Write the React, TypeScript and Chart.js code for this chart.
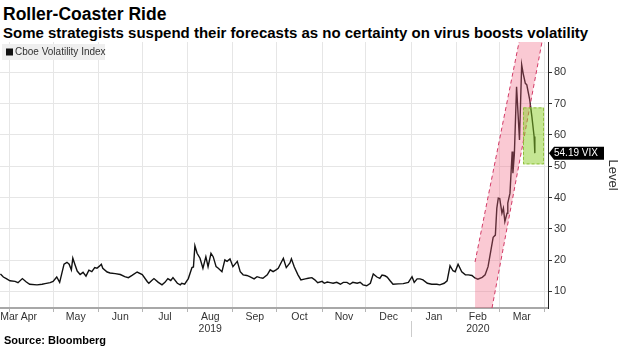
import React, { useEffect, useRef } from 'react';
import { Chart, registerables } from 'chart.js';

Chart.register(...registerables);

const TITLE = 'Roller-Coaster Ride';
const SUBTITLE = 'Some strategists suspend their forecasts as no certainty on virus boosts volatility';
const SOURCE = 'Source: Bloomberg';
const SERIES_NAME = 'Cboe Volatility Index';
const AXIS_TITLE = 'Level';
const LAST_VALUE = 54.19;
const LAST_TAG = '54.19 VIX';

// x values: days since 2019-03-01
const days = [
  25, 27, 29, 31.5, 35, 37, 40, 42.5, 45, 50, 53.5, 55.5, 59, 61, 63.5, 65.5, 68.5, 70.5, 72, 73.5,
  74.5, 76, 77.5, 79.5, 81.5, 83.5, 85.5, 87.5, 89.5, 91, 92.5, 94, 95, 98, 100, 103.5, 107, 110, 112.5, 115,
  118.5, 122, 125.5, 126.5, 128.5, 130, 133, 135.5, 137.5, 139.5, 141.5, 143, 146, 148, 149, 151, 153.5, 156, 157, 158,
  159.5, 161.5, 163.5, 165.5, 167, 169, 170.5, 172.5, 174, 176.5, 178.5, 180, 182, 184, 187, 189, 191, 193.5, 195.5, 198.5,
  200.5, 202.5, 204.5, 207.5, 209.5, 211.5, 213.5, 215, 218.5, 220.5, 223, 224, 226, 228.5, 230.5, 233.5, 235.5, 238, 240, 242,
  245, 246.5, 248.5, 250.5, 252.5, 255, 257.5, 259.5, 262, 264, 266, 269, 271, 273, 275.5, 278, 280, 282.5, 284.5, 286,
  288, 289.5, 291.5, 293.5, 297, 300.5, 304, 306.5, 308, 310, 312, 314, 317, 320, 323.5, 325.5, 328.5, 330.5, 332.5, 334.5,
  336, 338, 340.5, 343, 345, 347.5, 349.5, 351.5, 354.5, 356.5, 358.5, 360.5, 362, 363.5, 364.5, 365.5, 366.5, 368, 369, 370,
  371.5, 372, 373.5, 375, 375.5, 376.5, 378, 380, 381.5, 382.5, 384, 385, 387, 388.5, 390, 390.5,
];
const vix = [
  15.6, 14.6, 14.1, 13.4, 13.2, 12.8, 14.1, 13.1, 12.3, 12.1, 12.3, 12.5, 12.8, 13.2, 14.6, 12.9, 18.7, 19.3, 18.7, 16.9,
  20.6, 18.5, 16.5, 15.4, 16.1, 14.9, 16.8, 16.3, 17.6, 17.4, 18.0, 18.7, 17.4, 16.2, 15.9, 15.7, 15.4, 14.7, 14.4, 15.1,
  16.2, 15.4, 13.1, 12.6, 13.5, 14.1, 12.9, 12.1, 12.9, 14.1, 13.5, 14.4, 12.6, 12.1, 12.6, 12.3, 14.1, 17.6, 17.8, 24.6,
  22.2, 20.6, 17.4, 21.1, 17.9, 22.2, 21.1, 17.9, 17.4, 16.3, 20.1, 19.6, 20.4, 17.9, 19.6, 16.3, 15.3, 15.1, 14.7, 14.0,
  14.7, 14.4, 14.2, 15.3, 16.9, 16.3, 16.9, 17.4, 20.6, 17.6, 19.1, 20.4, 17.8, 15.3, 13.7, 14.0, 14.2, 14.4, 13.7, 12.8,
  13.2, 12.6, 13.0, 12.8, 12.6, 12.9, 12.3, 12.9, 12.9, 12.3, 12.9, 12.6, 12.9, 12.1, 11.8, 12.6, 15.6, 14.6, 14.2, 15.2,
  15.0, 14.6, 13.4, 12.3, 12.4, 12.5, 12.9, 14.7, 12.9, 14.0, 14.0, 13.7, 12.6, 12.3, 12.3, 12.1, 12.6, 13.4, 18.2, 16.6,
  16.3, 18.7, 16.3, 15.3, 15.3, 15.1, 14.3, 13.9, 14.5, 15.3, 17.9, 23.3, 27.3, 28.0, 36.6, 39.8, 39.7, 35.0, 36.6, 32.3,
  35.0, 38.2, 41.4, 54.7, 47.8, 53.9, 75.4, 58.4, 82.4, 79.7, 76.5, 76.0, 71.2, 65.8, 59.5, 54.19,
];

// axis ticks (days since 2019-03-01)
const monthStarts = [31, 61, 92, 122, 153, 184, 214, 245, 275, 306, 337, 366, 397];
const monthLabelDays = [31, 44.5, 76.5, 107, 137.5, 168.5, 199, 229.5, 260, 290.5, 321.5, 351.5, 381.5];
const monthLabels = [
  ['Mar'], ['Apr'], ['May'], ['Jun'], ['Jul'], ['Aug', '2019'], ['Sep'], ['Oct'], ['Nov'], ['Dec'], ['Jan'], ['Feb', '2020'], ['Mar'],
];
const yearBreakDay = 306;
const yTicks = [10, 20, 30, 40, 50, 60, 70, 80];
const X_MIN = 24.7;
const X_MAX = 399.5;
const Y_MIN = 4.7;
const Y_MAX = 89.7;

// annotations (data coordinates)
const bandLeftX = [349.6, 349.6, 379.7];
const bandLeftY = [Y_MIN, 19.4, Y_MAX];
const bandRightX = [361.2, 395.4];
const bandRightY = [Y_MIN, Y_MAX];
const boxX = [382.4, 396.8];
const boxY = [50.6, 68.8];

const FONT = "'Liberation Sans', Arial, sans-serif";

const annotPlugin = {
  id: 'annot',
  afterDatasetsDraw(chart: any) {
    const { ctx, chartArea, scales } = chart;
    const x = scales.x;
    const y = scales.y;
    const px = (v: number) => x.getPixelForValue(v);
    const py = (v: number) => y.getPixelForValue(v);
    ctx.save();
    ctx.beginPath();
    ctx.rect(chartArea.left, chartArea.top, chartArea.right - chartArea.left, chartArea.bottom - chartArea.top);
    ctx.clip();
    // pink band
    ctx.beginPath();
    ctx.moveTo(px(bandLeftX[0]), py(bandLeftY[0]));
    ctx.lineTo(px(bandLeftX[1]), py(bandLeftY[1]));
    ctx.lineTo(px(bandLeftX[2]), py(bandLeftY[2]));
    ctx.lineTo(px(bandRightX[1]), py(bandRightY[1]));
    ctx.lineTo(px(bandRightX[0]), py(bandRightY[0]));
    ctx.closePath();
    ctx.fillStyle = 'rgba(240,100,130,0.35)';
    ctx.fill();
    ctx.setLineDash([4, 3]);
    ctx.strokeStyle = '#d23a66';
    ctx.lineWidth = 1;
    ctx.beginPath();
    ctx.moveTo(px(bandLeftX[1]), py(bandLeftY[1]));
    ctx.lineTo(px(bandLeftX[2]), py(bandLeftY[2]));
    ctx.moveTo(px(bandRightX[0]), py(bandRightY[0]));
    ctx.lineTo(px(bandRightX[1]), py(bandRightY[1]));
    ctx.stroke();
    // green box
    const bx0 = px(boxX[0]);
    const bx1 = px(boxX[1]);
    const by0 = py(boxY[1]);
    const by1 = py(boxY[0]);
    ctx.fillStyle = 'rgba(140,205,40,0.5)';
    ctx.fillRect(bx0, by0, bx1 - bx0, by1 - by0);
    ctx.strokeStyle = '#8fbf3a';
    ctx.setLineDash([3, 2]);
    ctx.strokeRect(bx0 + 0.5, by0 + 0.5, bx1 - bx0 - 1, by1 - by0 - 1);
    ctx.restore();
  },
  afterDraw(chart: any) {
    const { ctx, chartArea, scales } = chart;
    ctx.save();
    // legend
    ctx.fillStyle = '#efefef';
    ctx.fillRect(2, 44, 103, 16);
    ctx.fillStyle = '#111';
    ctx.fillRect(6, 48.5, 7, 7);
    ctx.fillStyle = '#333';
    ctx.font = `10px ${FONT}`;
    ctx.textBaseline = 'middle';
    ctx.textAlign = 'left';
    ctx.fillText(SERIES_NAME, 15, 52.5);
    // last value tag
    const yv = scales.y.getPixelForValue(LAST_VALUE);
    const x0 = chartArea.right;
    ctx.fillStyle = '#000';
    ctx.beginPath();
    ctx.moveTo(x0 + 1, yv);
    ctx.lineTo(x0 + 6, yv - 6.5);
    ctx.lineTo(x0 + 56, yv - 6.5);
    ctx.lineTo(x0 + 56, yv + 6.5);
    ctx.lineTo(x0 + 6, yv + 6.5);
    ctx.closePath();
    ctx.fill();
    ctx.fillStyle = '#fff';
    ctx.font = `10px ${FONT}`;
    ctx.fillText(LAST_TAG, x0 + 6, yv + 0.5);
    // year separator
    const sx = Math.round(scales.x.getPixelForValue(yearBreakDay)) + 0.5;
    ctx.strokeStyle = '#cccccc';
    ctx.lineWidth = 1;
    ctx.beginPath();
    ctx.moveTo(sx, 321);
    ctx.lineTo(sx, 337);
    ctx.stroke();
    ctx.restore();
  },
};

export default function App() {
  const ref = useRef<HTMLCanvasElement>(null);
  useEffect(() => {
    const canvas = ref.current;
    if (!canvas) return;
    const chart = new Chart(canvas, {
      type: 'line',
      data: {
        datasets: [
          {
            label: SERIES_NAME,
            data: days.map((d, i) => ({ x: d, y: vix[i] })),
            borderColor: '#111111',
            borderWidth: 1.4,
            pointRadius: 0,
            tension: 0,
            xAxisID: 'x',
            yAxisID: 'y',
          },
        ],
      },
      options: {
        responsive: false,
        animation: false,
        layout: { padding: { top: 42, left: 0, right: 0, bottom: 8 } },
        plugins: {
          legend: { display: false },
          tooltip: { enabled: false },
          title: { display: false },
        },
        scales: {
          x: {
            type: 'linear',
            position: 'bottom',
            weight: 0,
            min: X_MIN,
            max: X_MAX,
            afterBuildTicks: (s: any) => {
              s.ticks = monthStarts.map((v) => ({ value: v }));
            },
            ticks: { display: false },
            grid: { color: '#e6e6e6', tickColor: '#b5b5b5', tickLength: 4, drawTicks: true },
            border: { color: '#a8a8a8', width: 2 },
            afterFit: (s: any) => {
              s.height = 3;
              s.paddingLeft = 0;
              s.paddingRight = 0;
            },
          },
          xm: {
            type: 'linear',
            position: 'bottom',
            weight: 1,
            min: X_MIN,
            max: X_MAX,
            afterBuildTicks: (s: any) => {
              s.ticks = monthLabelDays.map((v) => ({ value: v }));
            },
            ticks: {
              autoSkip: false,
              maxRotation: 0,
              minRotation: 0,
              padding: 0,
              color: '#333333',
              font: { family: FONT, size: 10.5, lineHeight: 1.15 },
              callback: (_v: any, i: number) => monthLabels[i],
            },
            grid: { display: false, drawTicks: false },
            border: { display: false },
            afterFit: (s: any) => {
              s.height = 29;
              s.paddingLeft = 0;
              s.paddingRight = 0;
            },
          },
          y: {
            type: 'linear',
            position: 'right',
            min: Y_MIN,
            max: Y_MAX,
            afterBuildTicks: (s: any) => {
              s.ticks = yTicks.map((v) => ({ value: v }));
            },
            ticks: { color: '#333333', padding: 2, font: { family: FONT, size: 11 } },
            grid: { color: '#e6e6e6', tickColor: '#333333', tickLength: 4 },
            border: { color: '#222222', width: 1 },
            title: { display: true, text: AXIS_TITLE, color: '#333333', padding: 0, font: { family: FONT, size: 13 } },
            afterFit: (s: any) => {
              s.width = 72;
            },
          },
        },
      } as any,
      plugins: [annotPlugin],
    });
    return () => chart.destroy();
  }, []);

  return (
    <div style={{ position: 'fixed', left: 0, top: 0, width: 620, height: 348, background: '#fff', overflow: 'hidden' }}>
      <div style={{ position: 'absolute', left: 3, top: 4, font: `bold 17.5px ${FONT}`, lineHeight: '20px', color: '#000', whiteSpace: 'nowrap' }}>
        {TITLE}
      </div>
      <div style={{ position: 'absolute', left: 3, top: 24, font: `bold 15px ${FONT}`, lineHeight: '17px', color: '#000', whiteSpace: 'nowrap' }}>
        {SUBTITLE}
      </div>
      <canvas ref={ref} width={620} height={348} style={{ position: 'absolute', left: 0, top: 0, width: 620, height: 348 }} />
      <div style={{ position: 'absolute', left: 4, top: 334, font: `bold 11px ${FONT}`, lineHeight: '13px', color: '#000', whiteSpace: 'nowrap' }}>
        {SOURCE}
      </div>
    </div>
  );
}
